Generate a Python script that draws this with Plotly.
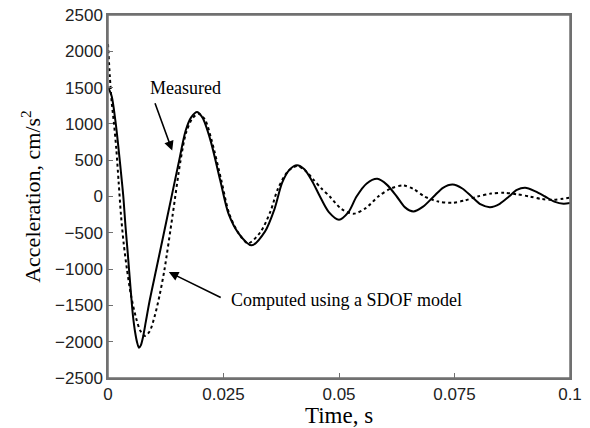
import plotly.graph_objects as go

# Measured acceleration (solid)
t_meas = [0, 0.0008, 0.0016, 0.0021, 0.0027, 0.0033, 0.0038, 0.0043, 0.0049, 0.0054,
          0.0059, 0.0063, 0.0067, 0.0071, 0.0076, 0.0082, 0.0090, 0.0104, 0.0120, 0.0136,
          0.0153, 0.0168, 0.0180, 0.0193, 0.0205, 0.0222, 0.0243, 0.0261, 0.0283, 0.0311,
          0.0340, 0.0360, 0.0377, 0.0393, 0.0409, 0.0425, 0.0442, 0.0458, 0.0478, 0.0500,
          0.0520, 0.0538, 0.0560, 0.0583, 0.0604, 0.0625, 0.0643, 0.0661, 0.0682, 0.0705,
          0.0725, 0.0746, 0.0767, 0.0787, 0.0807, 0.0827, 0.0848, 0.0868, 0.0885, 0.0903,
          0.0925, 0.0946, 0.0966, 0.0986, 0.1]
a_meas = [1510, 1380, 1044, 769, 400, 10, -420, -800, -1280, -1640,
          -1880, -2010, -2084, -2050, -1930, -1720, -1440, -1016, -533, -50,
          464, 906, 1090, 1165, 1080, 770, 220, -240, -510, -673,
          -480, -180, 190, 370, 430, 375, 210, 10, -215, -320,
          -220, 0, 180, 243, 160, 0, -150, -206, -140, 0,
          120, 165, 110, 0, -110, -147, -100, 0, 90, 120,
          70, 0, -70, -100, -90]

# Computed using a SDOF model (dotted)
t_comp = [0, 0.0004, 0.0008, 0.0013, 0.0018, 0.0023, 0.0028, 0.0034, 0.0041, 0.0050,
          0.0061, 0.0070, 0.0080, 0.0090, 0.0101, 0.0112, 0.0122, 0.0140, 0.0157, 0.0169,
          0.0183, 0.0196, 0.0210, 0.0224, 0.0245, 0.0262, 0.0282, 0.0303, 0.0330, 0.0352,
          0.0368, 0.0390, 0.0410, 0.0428, 0.0445, 0.0462, 0.0480, 0.0505, 0.0531, 0.0558,
          0.0585, 0.0612, 0.0639, 0.0662, 0.0685, 0.0715, 0.0745, 0.0772, 0.0800, 0.0829,
          0.0858, 0.0885, 0.0913, 0.0939, 0.0965, 0.0985, 0.1]
a_comp = [2100, 1650, 1300, 1000, 650, 200, -250, -650, -1000, -1370,
          -1680, -1850, -1920, -1860, -1650, -1350, -1016, -250, 495, 880,
          1080, 1140, 1060, 780, 230, -230, -500, -645, -490, -200,
          110, 350, 420, 350, 230, 110, 0, -170, -238, -160,
          0, 110, 151, 100, 0, -70, -87, -55, 0, 40,
          50, 30, 0, -35, -45, -30, -15]

x_ticks = [0, 0.025, 0.05, 0.075, 0.1]
x_tick_labels = ["0", "0.025", "0.05", "0.075", "0.1"]
y_ticks = list(range(-2500, 2501, 500))

fig = go.Figure()
fig.add_trace(go.Scatter(x=t_comp, y=a_comp, mode="lines",
                         line=dict(color="black", width=2, dash="dot", shape="spline", smoothing=0.8),
                         name="Computed using a SDOF model", showlegend=False))
fig.add_trace(go.Scatter(x=t_meas, y=a_meas, mode="lines",
                         line=dict(color="black", width=2, shape="spline", smoothing=0.8),
                         name="Measured", showlegend=False))

serif = "Liberation Serif"
sans = "Liberation Sans"
frame_color = "#707070"

fig.add_annotation(x=0.01677, y=1497, xref="x", yref="y", text="Measured", showarrow=False,
                   font=dict(family=serif, size=18, color="black"))
fig.add_annotation(x=0.0139, y=632, ax=0.01006, ay=1305, xref="x", yref="y", axref="x", ayref="y",
                   text="", showarrow=True, arrowhead=2, arrowsize=1.2, arrowwidth=1.6, arrowcolor="black")
fig.add_annotation(x=0.0262, y=-1429, xref="x", yref="y", text="Computed using a SDOF model",
                   showarrow=False, xanchor="left",
                   font=dict(family=serif, size=18, color="black"))
fig.add_annotation(x=0.01316, y=-1040, ax=0.02472, ay=-1401, xref="x", yref="y", axref="x", ayref="y",
                   text="", showarrow=True, arrowhead=2, arrowsize=1.2, arrowwidth=1.6, arrowcolor="black")

# Plot frame (box around the plotting area)
fig.add_shape(type="rect", xref="x domain", yref="y domain", x0=0, x1=1, y0=0, y1=1,
              line=dict(color=frame_color, width=1.5), fillcolor="rgba(0,0,0,0)", layer="above")

axis_common = dict(showgrid=False, zeroline=False, showline=True, mirror=True, automargin=False,
                   linecolor=frame_color, linewidth=1.5, ticks="inside", ticklen=5,
                   tickcolor=frame_color, tickwidth=1.2, ticklabeloverflow="allow",
                   tickfont=dict(family=sans, size=17, color="#222222"))

fig.update_xaxes(range=[0, 0.1], tickvals=x_ticks, ticktext=x_tick_labels,
                 title=dict(text="Time, s", font=dict(family=serif, size=23, color="black"), standoff=0),
                 **axis_common)
fig.update_yaxes(range=[-2500, 2500], tickvals=y_ticks,
                 title=dict(text="Acceleration, cm/s<sup>2</sup>", font=dict(family=serif, size=22, color="black"),
                            standoff=8),
                 **axis_common)

# The page body adds an 8 px offset, so the figure is sized/margined to land on the reference frame
fig.update_layout(width=582, height=420, margin=dict(l=100, r=20, t=7, b=50),
                  paper_bgcolor="white", plot_bgcolor="white", showlegend=False)

fig.write_html("out.html")
